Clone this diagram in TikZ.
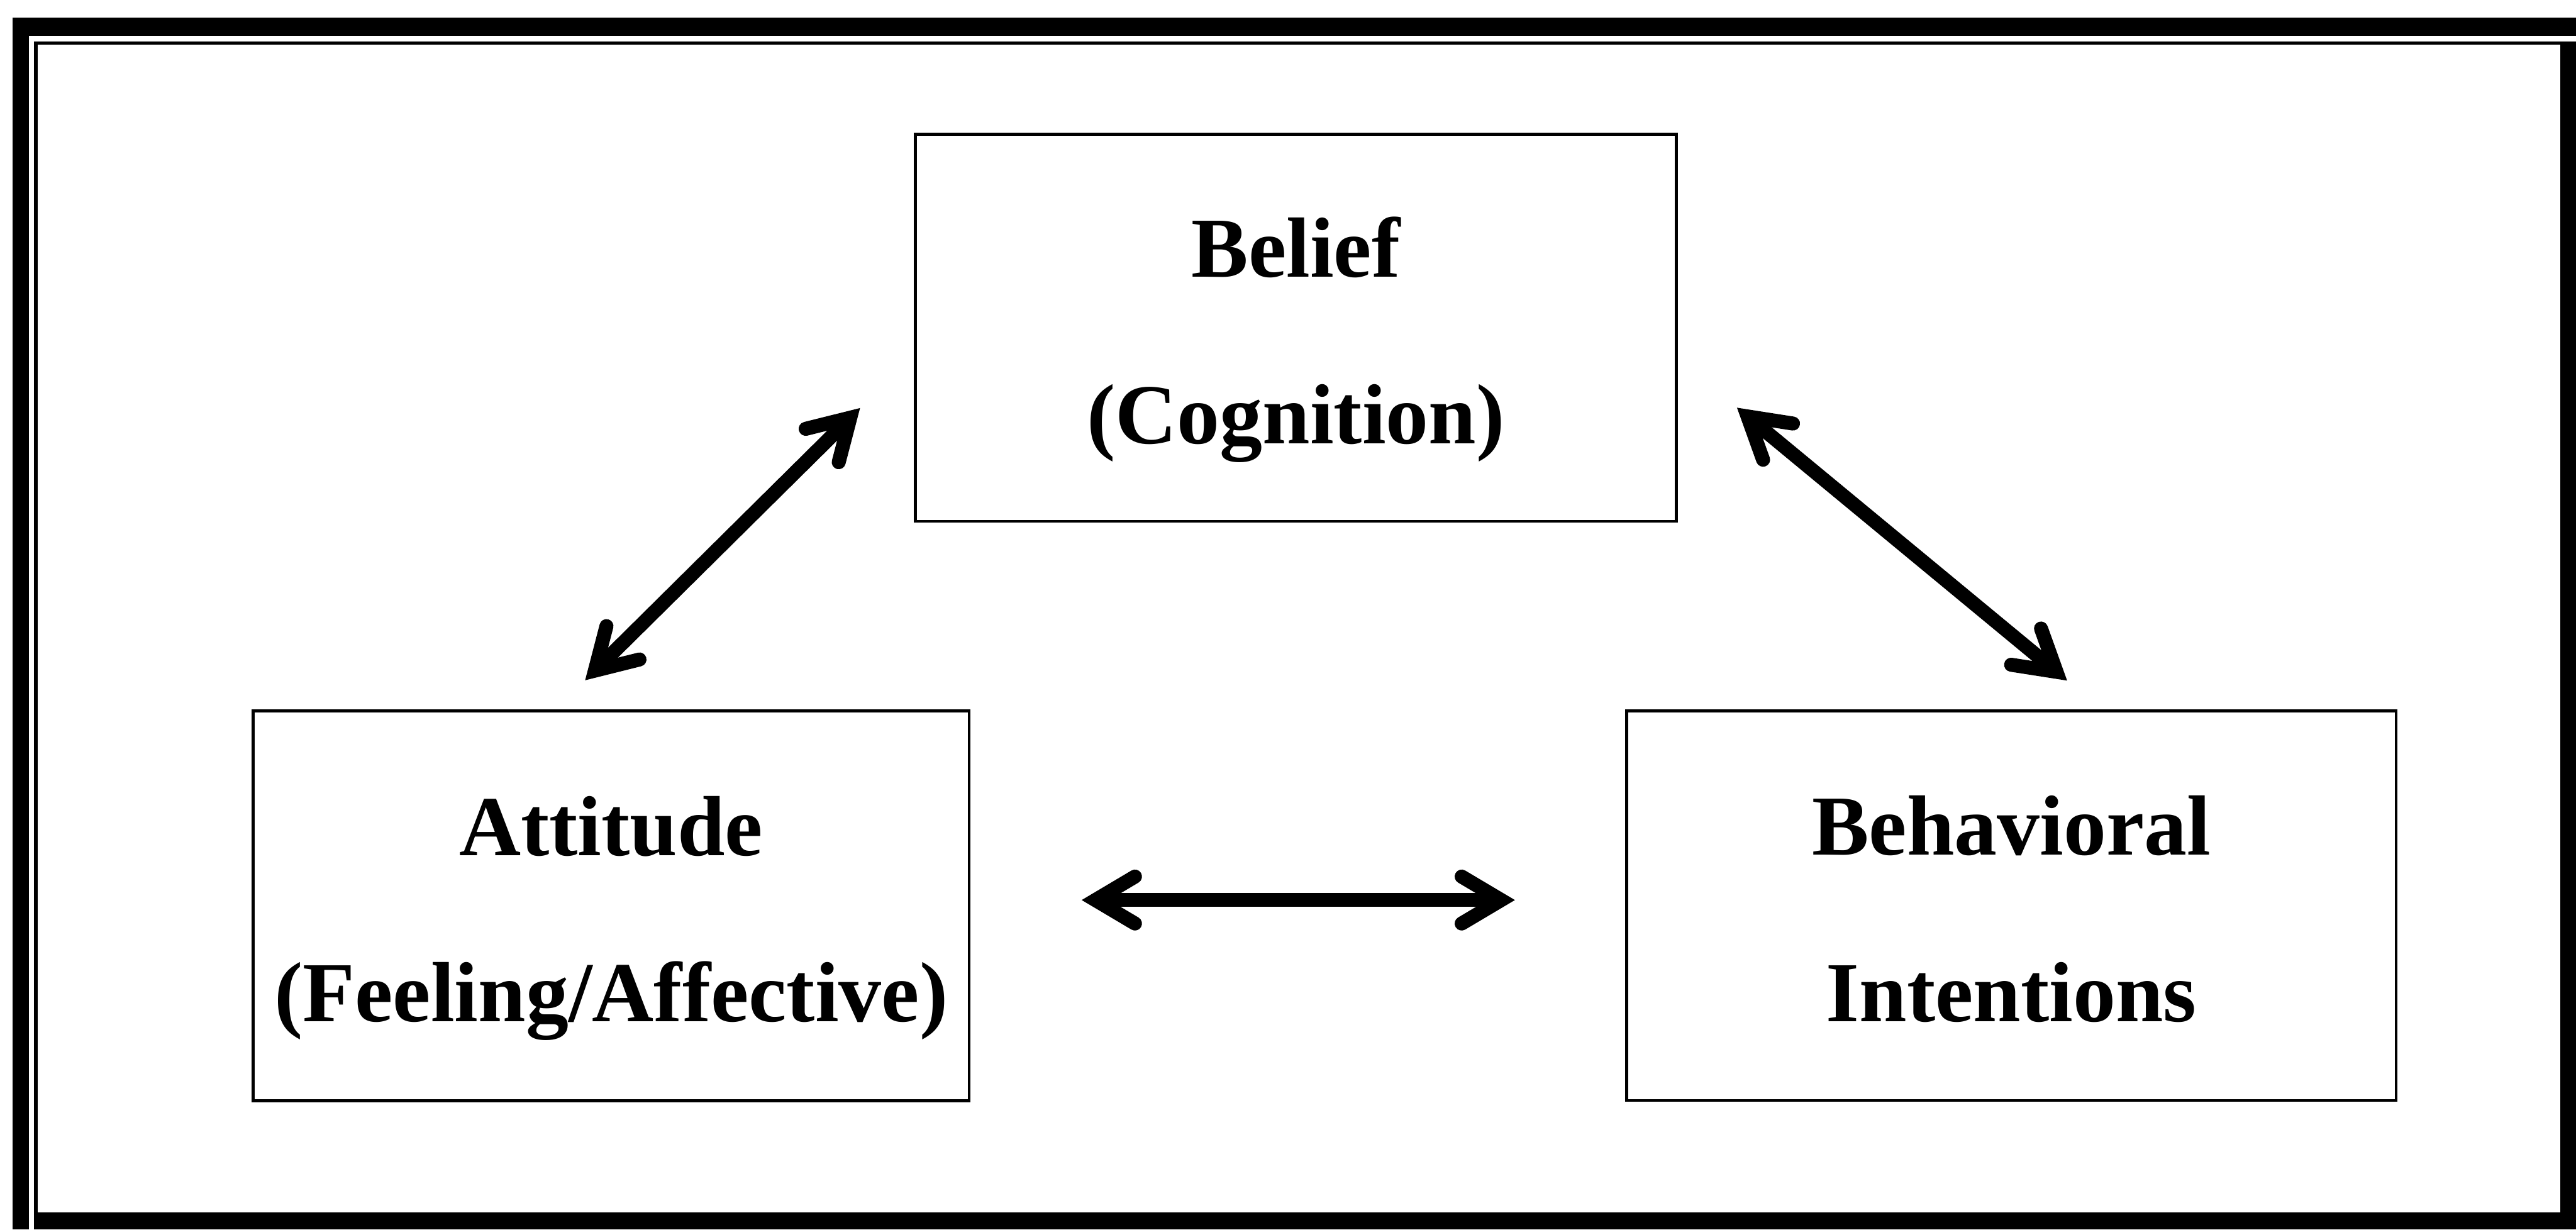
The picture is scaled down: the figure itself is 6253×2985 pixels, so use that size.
\documentclass[tikz,border=0pt]{standalone}
\usepackage{fontspec}
\setmainfont{Liberation Serif}
\usepackage{tikz}
\usetikzlibrary{decorations.markings}

\newcommand{\upstrut}{\rule{0pt}{20.9mm}}
\newcommand{\downstrut}{\rule[-5mm]{0pt}{5mm}}

\tikzset{
  concept/.style={draw, line width=0.7mm, inner sep=0pt, align=center,
    font=\fontsize{59}{115}\selectfont\bfseries},
  barb/.style={line width=3.4mm, line cap=round, line join=miter},
  twoway/.style={line width=3.4mm, postaction={decorate},
    decoration={markings,
      mark=at position 0 with {\draw[barb] (96,57) -- (0,0) -- (96,-57);},
      mark=at position 1 with {\draw[barb] (-96,57) -- (0,0) -- (-96,-57);}}}
}

\begin{document}
\begin{tikzpicture}[x=0.1mm, y=-0.1mm]
	\useasboundingbox (0,0) rectangle (6253,2985);
	% frame
	\fill (30,43) rectangle (6253,87);
	\fill (30,43) rectangle (70,2985);
	\fill (82,100) rectangle (6253,109);
	\fill (82,100) rectangle (91,2985);
	\fill (6215,100) rectangle (6253,2985);
	\fill (82,2944) rectangle (6253,2985);

	\node[concept, minimum width=184.8mm, minimum height=94mm] (belief) at (3145.5,795.5) {\upstrut Belief\\(Cognition)\downstrut};
	\node[concept, minimum width=173.8mm, minimum height=94.7mm] (attitude) at (1483.5,2199) {\upstrut Attitude\\(Feeling/Affective)\downstrut};
	\node[concept, minimum width=186.8mm, minimum height=94.6mm] (intent) at (4882.5,2198.5) {\upstrut Behavioral\\Intentions\downstrut};

	\coordinate (ab1) at (1444,1628);
	\coordinate (ab2) at (2064,1014);
	\coordinate (bi1) at (4242,1011);
	\coordinate (bi2) at (4992,1631);
	\coordinate (ai1) at (2659,2185);
	\coordinate (ai2) at (3644,2185);

	\draw[twoway] (ab1) -- (ab2);
	\draw[twoway] (bi1) -- (bi2);
	\draw[twoway] (ai1) -- (ai2);
\end{tikzpicture}
\end{document}
